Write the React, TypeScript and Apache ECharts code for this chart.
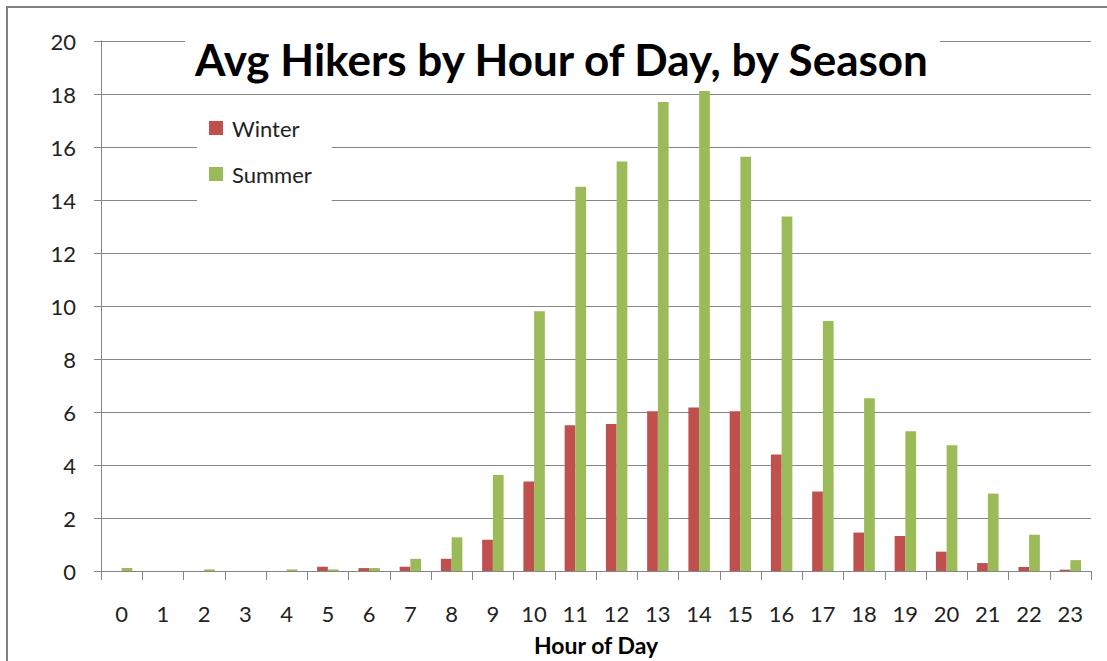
import React, { useEffect, useRef } from "react";
import * as echarts from "echarts";

const hours = ["0","1","2","3","4","5","6","7","8","9","10","11","12","13","14","15","16","17","18","19","20","21","22","23"];
const winter = [0, 0, 0, 0, 0, 0.16, 0.11, 0.16, 0.46, 1.18, 3.38, 5.5, 5.55, 6.03, 6.17, 6.03, 4.4, 3.0, 1.45, 1.32, 0.73, 0.3, 0.15, 0.05];
const summer = [0.11, 0, 0.06, 0, 0.06, 0.06, 0.11, 0.46, 1.27, 3.62, 9.8, 14.5, 15.45, 17.7, 18.15, 15.63, 13.38, 9.43, 6.52, 5.27, 4.75, 2.92, 1.37, 0.41];
const titleText = "Avg Hikers by Hour of Day, by Season";
const xName = "Hour of Day";

export default function App() {
  const ref = useRef<HTMLDivElement>(null);
  useEffect(() => {
    if (!ref.current) return;
    const chart = echarts.init(ref.current, null, { renderer: "svg" });
    const gray = "#868686";
    const font = "Lato, 'Liberation Sans', sans-serif";
    chart.setOption({
      animation: false,
      backgroundColor: "#ffffff",
      textStyle: { fontFamily: font },
      graphic: [
        {
          type: "rect",
          z: -1,
          shape: { x: 7, y: 7, width: 1200, height: 700 },
          style: { fill: "none", stroke: "#808080", lineWidth: 2 },
        },
      ],
      title: {
        text: titleText,
        left: 185,
        top: 29,
        padding: [8, 8, 10, 10],
        backgroundColor: "#ffffff",
        textStyle: { fontFamily: font, fontSize: 44, fontWeight: "bold", color: "#000000" },
        z: 10,
      },
      legend: {
        orient: "vertical",
        left: 197,
        top: 103,
        padding: [14, 20, 16, 12],
        backgroundColor: "#ffffff",
        itemWidth: 14,
        itemHeight: 14,
        itemGap: 24,
        icon: "rect",
        textStyle: { fontFamily: font, fontSize: 22, color: "#222222", padding: [0, 0, 0, 4] },
        z: 10,
      },
      grid: { left: 101, right: 16, top: 41, bottom: 88, containLabel: false },
      xAxis: {
        type: "category",
        data: hours,
        name: xName,
        nameLocation: "middle",
        nameGap: 62,
        nameTextStyle: { fontFamily: font, fontSize: 23, fontWeight: "bold", color: "#000000" },
        axisLine: { lineStyle: { color: gray, width: 1 } },
        axisTick: { show: true, length: 9, lineStyle: { color: gray } },
        axisLabel: { margin: 31, fontSize: 22, color: "#222222", fontFamily: font },
      },
      yAxis: {
        type: "value",
        min: 0,
        max: 20,
        interval: 2,
        axisLine: { show: true, lineStyle: { color: gray, width: 1 } },
        axisTick: { show: true, length: 7, lineStyle: { color: gray } },
        axisLabel: { margin: 25, fontSize: 22, color: "#222222", fontFamily: font },
        splitLine: { show: true, lineStyle: { color: gray, width: 1 } },
      },
      series: [
        {
          name: "Winter",
          type: "bar",
          data: winter,
          barGap: "0%",
          barCategoryGap: "48%",
          itemStyle: { color: "#C0504D" },
        },
        {
          name: "Summer",
          type: "bar",
          data: summer,
          barGap: "0%",
          barCategoryGap: "48%",
          itemStyle: { color: "#9BBB59" },
        },
      ],
    });
    return () => chart.dispose();
  }, []);
  return <div ref={ref} style={{ position: "absolute", left: 0, top: 0, width: 1107, height: 661 }} />;
}
